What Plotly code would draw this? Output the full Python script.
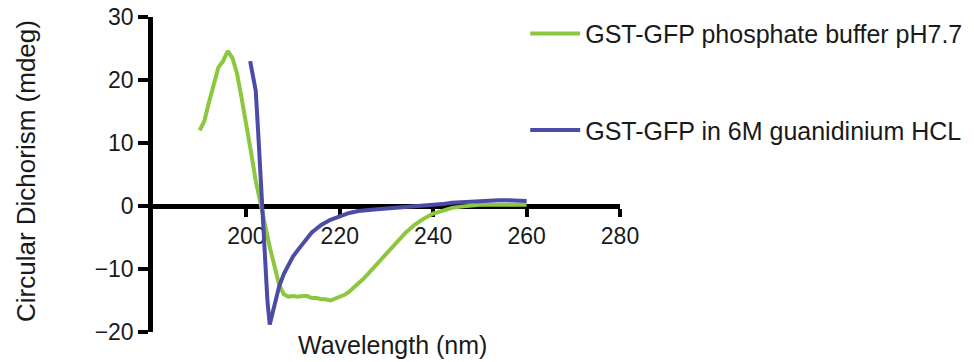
import plotly.graph_objects as go

# Phosphate buffer pH 7.7 (green)
wl_native = [190, 191, 192, 193, 194, 195, 196, 197, 198, 199, 200, 201, 202, 203, 204, 205,
             206, 207, 208, 209, 210, 211, 212, 213, 214, 215, 216, 217, 218, 219, 220, 221,
             222, 223, 224, 225, 226, 227, 228, 229, 230, 232, 234, 236, 238, 240, 242, 244,
             246, 248, 250, 252, 254, 256, 258, 260]
cd_native = [12, 13.5, 16.5, 19.5, 22, 23, 24.6, 23.5, 21, 17, 13, 8.5, 4, 0.3, -3, -6.5,
             -9.5, -12.5, -14, -14.4, -14.3, -14.4, -14.3, -14.3, -14.6, -14.6, -14.8, -14.8, -15, -14.7, -14.4, -14.1,
             -13.6, -13, -12.3, -11.6, -10.8, -10, -9.2, -8.3, -7.5, -5.8, -4.3, -3, -2, -1.2, -0.7, -0.3,
             -0.1, 0.1, 0.2, 0.2, 0.2, 0.2, 0.2, 0.2]

# 6M guanidinium HCl (blue)
wl_denat = [200.8, 201.5, 202, 202.5, 203, 203.5, 204, 204.5, 205, 206, 207, 208, 209, 210, 211, 212,
            213, 214, 215, 216, 218, 220, 222, 224, 226, 228, 230, 232, 234, 236, 238, 240,
            242, 244, 246, 248, 250, 252, 254, 256, 258, 260]
cd_denat = [23, 20.5, 18.3, 12, 5, -3, -9, -15, -18.8, -15.8, -12.8, -10.8, -9.3, -8, -7, -6,
            -5, -4.2, -3.6, -3, -2.2, -1.6, -1.1, -0.8, -0.6, -0.5, -0.4, -0.3, -0.2, -0.1, 0, 0.1,
            0.3, 0.5, 0.6, 0.7, 0.8, 0.8, 0.9, 0.9, 0.9, 0.8]

series_names = ["GST-GFP phosphate buffer pH7.7", "GST-GFP in 6M guanidinium HCL"]
x_ticks = [200, 220, 240, 260, 280]
y_ticks = [-20, -10, 0, 10, 20, 30]

GREEN = "#8dc63f"
BLUE = "#4b4ba8"
FONT = "Liberation Sans, Arial, sans-serif"
TXT = "#1a1a1a"

fig = go.Figure()
fig.add_trace(go.Scatter(x=wl_native, y=cd_native, mode="lines", name=series_names[0],
                         line=dict(color=GREEN, width=4), legendgroup="a"))
fig.add_trace(go.Scatter(x=wl_denat, y=cd_denat, mode="lines", name=series_names[1],
                         line=dict(color=BLUE, width=4), legendgroup="b"))

fig.update_layout(
    width=974, height=362,
    margin=dict(l=153, r=354, t=17, b=30, autoexpand=False),
    paper_bgcolor="white", plot_bgcolor="white",
    font=dict(family=FONT, color=TXT),
    showlegend=True,
    legend=dict(x=0.797, y=1.02, xanchor="left", yanchor="top",
                font=dict(family=FONT, size=25, color=TXT),
                tracegroupgap=61, traceorder="grouped", itemwidth=50,
                bgcolor="rgba(0,0,0,0)"),
    xaxis=dict(range=[180, 280], tickvals=x_ticks, anchor="free", position=0.4,
               showline=True, linecolor="black", linewidth=4.5,
               ticks="outside", ticklen=8, tickwidth=3.5, tickcolor="black",
               tickfont=dict(family=FONT, size=23, color=TXT),
               showgrid=False, zeroline=False, layer="below traces"),
    yaxis=dict(range=[-20, 30], tickvals=y_ticks,
               showline=True, linecolor="black", linewidth=4.5,
               ticks="outside", ticklen=10, tickwidth=3.5, tickcolor="black",
               tickfont=dict(family=FONT, size=23, color=TXT),
               showgrid=False, zeroline=False, layer="below traces"),
    annotations=[
        dict(text="Wavelength (nm)", xref="paper", yref="paper", x=0.512, y=-0.041,
             xanchor="center", yanchor="middle", showarrow=False,
             font=dict(family=FONT, size=25, color=TXT)),
        dict(text="Circular Dichorism (mdeg)", xref="paper", yref="paper", x=-0.272, y=0.511,
             xanchor="center", yanchor="middle", showarrow=False, textangle=-90,
             font=dict(family=FONT, size=26, color=TXT)),
    ],
)

fig.write_html("out.html")
